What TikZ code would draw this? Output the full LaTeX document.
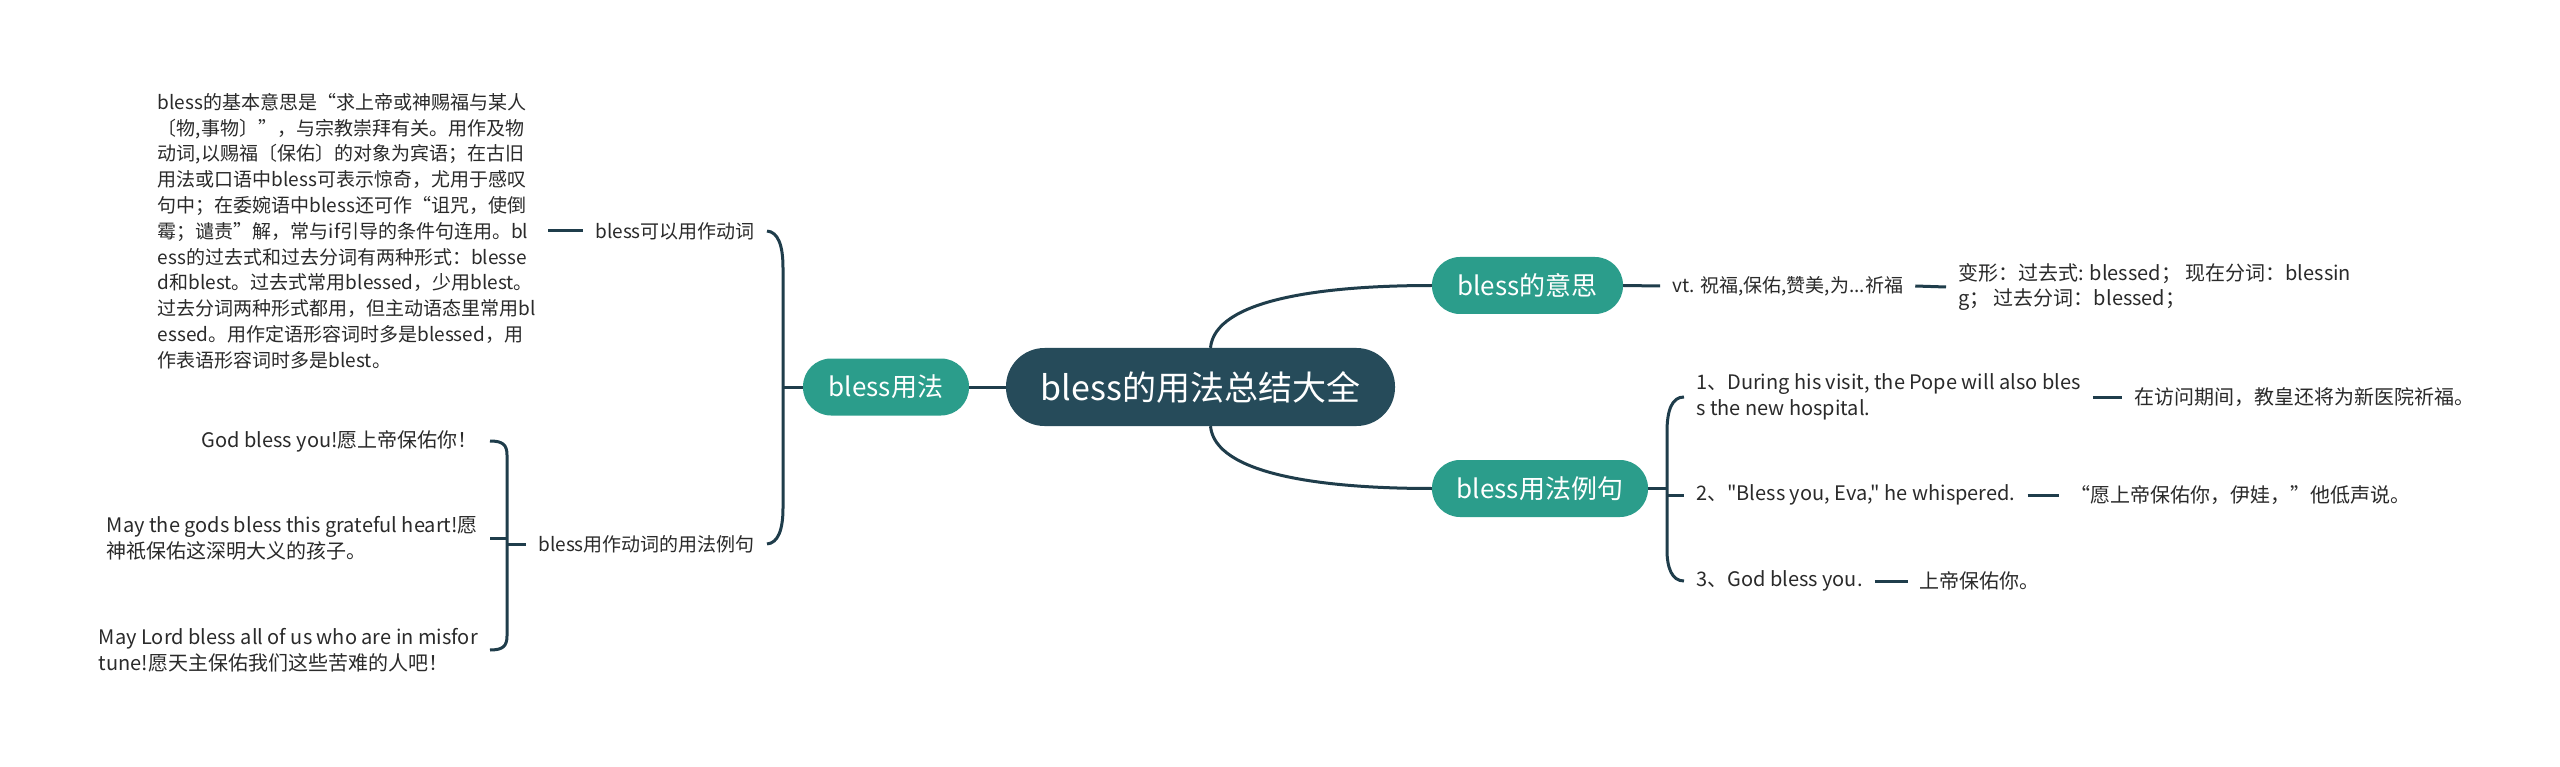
\documentclass[tikz,border=0pt]{standalone}
\usepackage{fontspec}
\setmainfont{Noto Sans CJK SC}[Ligatures=TeXOff]
\usetikzlibrary{calc}
\definecolor{rootc}{HTML}{264B5A}
\definecolor{tealc}{HTML}{2B9D8B}
\definecolor{linec}{HTML}{1F3D4B}
\definecolor{txtc}{HTML}{2A2A2A}
\begin{document}
\begin{tikzpicture}[x=1pt,y=-1pt,
  conn/.style={draw=linec, line width=3pt},
  rootbox/.style={fill=rootc, text=white, minimum width=389pt, minimum height=78pt, rounded corners=38.5pt, font=\fontsize{34}{40}\selectfont, inner sep=0pt},
  topic/.style={fill=tealc, text=white, minimum height=57pt, rounded corners=28pt, font=\fontsize{26}{30}\selectfont, inner sep=0pt},
  leaf/.style={text=txtc, font=\fontsize{20}{25.8}\selectfont, inner xsep=12pt, inner ysep=3pt, align=left},
  leafs/.style={leaf, font=\fontsize{19}{25.8}\selectfont},
]
\useasboundingbox[fill=white] (0,0) rectangle (2560,767);

% main nodes
\node[rootbox] (root) at (1200.5,387) {bless的用法总结大全};
\node[topic, minimum width=166pt] (usage) at (886,387) {bless用法};
\node[topic, minimum width=191pt] (meaning) at (1527.5,285.5) {bless的意思};
\node[topic, minimum width=216pt] (examples) at (1540,488.5) {bless用法例句};

% left side
\node[leafs, anchor=east] (verb1) at (767,231) {bless可以用作动词};
\node[leafs, anchor=east] (verb2) at (767,544) {bless用作动词的用法例句};
\node[leafs, anchor=east] (desc) at ([xshift=-35pt]verb1.west) {bless的基本意思是“求上帝或神赐福与某人\\
〔物,事物〕”，与宗教崇拜有关。用作及物\\
动词,以赐福〔保佑〕的对象为宾语；在古旧\\
用法或口语中bless可表示惊奇，尤用于感叹\\
句中；在委婉语中bless还可作“诅咒，使倒\\
霉；谴责”解，常与if引导的条件句连用。bl\\
ess的过去式和过去分词有两种形式：blesse\\
d和blest。过去式常用blessed，少用blest。\\
过去分词两种形式都用，但主动语态里常用bl\\
essed。用作定语形容词时多是blessed，用\\
作表语形容词时多是blest。};
\node[leaf, anchor=east] (ex1) at (490,441) {God bless you!愿上帝保佑你！};
\node[leaf, anchor=east] (ex2) at (490,538) {May the gods bless this grateful heart!愿\\神祇保佑这深明大义的孩子。};
\node[leaf, anchor=east] (ex3) at (490,650) {May Lord bless all of us who are in misfor\\tune!愿天主保佑我们这些苦难的人吧！};

% right side
\node[leafs, anchor=west] (vt) at (1660,286) {vt. 祝福,保佑,赞美,为...祈福};
\node[leaf, anchor=west] (forms) at (1946,287) {变形：过去式: blessed；\ 现在分词：blessin\\g；\ 过去分词：blessed；};
\node[leaf, anchor=west] (it1) at (1684,397) {1、During his visit, the Pope will also bles\\s the new hospital.};
\node[leaf, anchor=west] (tr1) at ([xshift=29pt]it1.east) {在访问期间，教皇还将为新医院祈福。};
\node[leaf, anchor=west] (it2) at (1684,495) {2、"Bless you, Eva," he whispered.};
\node[leaf, anchor=west] (tr2) at ([xshift=31pt]it2.east) {“愿上帝保佑你，伊娃，”他低声说。};
\node[leaf, anchor=west] (it3) at (1684,581) {3、God bless you.};
\node[leaf, anchor=west] (tr3) at ([xshift=33pt]it3.east) {上帝保佑你。};

% bracket junctions
\coordinate (bjL) at (783,387);
\coordinate (bjS) at (507,538);
\coordinate (bjS2) at (507,544);
\coordinate (bjR) at (1667,488.5);
\coordinate (bjR2) at (1667,495);

% connectors
\draw[conn] ([xshift=10pt]root.north) .. controls (1215,300) and (1320,285.5) .. (meaning.west);
\draw[conn] ([xshift=10pt]root.south) .. controls (1215,474) and (1320,488.5) .. (examples.west);
\draw[conn] (root.west) -- (usage.east);
\draw[conn] (meaning.east) -- (vt.west);
\draw[conn] (vt.east) -- (forms.west);
\draw[conn] (usage.west) -- (bjL);
\draw[conn] (verb1.east) .. controls (778,232) and (783,245) .. (783,268) -- (783,508) .. controls (783,530) and (778,543) .. (verb2.east);
\draw[conn] (desc.east) -- (verb1.west);
\draw[conn] (ex1.east) .. controls (503,441) and (507,445) .. (507,455) -- (507,636) .. controls (507,646) and (503,650) .. (ex3.east);
\draw[conn] (ex2.east) -- (bjS);
\draw[conn] (bjS2) -- (verb2.west);
\draw[conn] (examples.east) -- (bjR);
\draw[conn] (it1.west) .. controls (1672,397) and (1667,410) .. (1667,432) -- (1667,550) .. controls (1667,568) and (1672,581) .. (it3.west);
\draw[conn] (bjR2) -- (it2.west);
\draw[conn] (it1.east) -- (tr1.west);
\draw[conn] (it2.east) -- (tr2.west);
\draw[conn] (it3.east) -- (tr3.west);
\end{tikzpicture}
\end{document}
